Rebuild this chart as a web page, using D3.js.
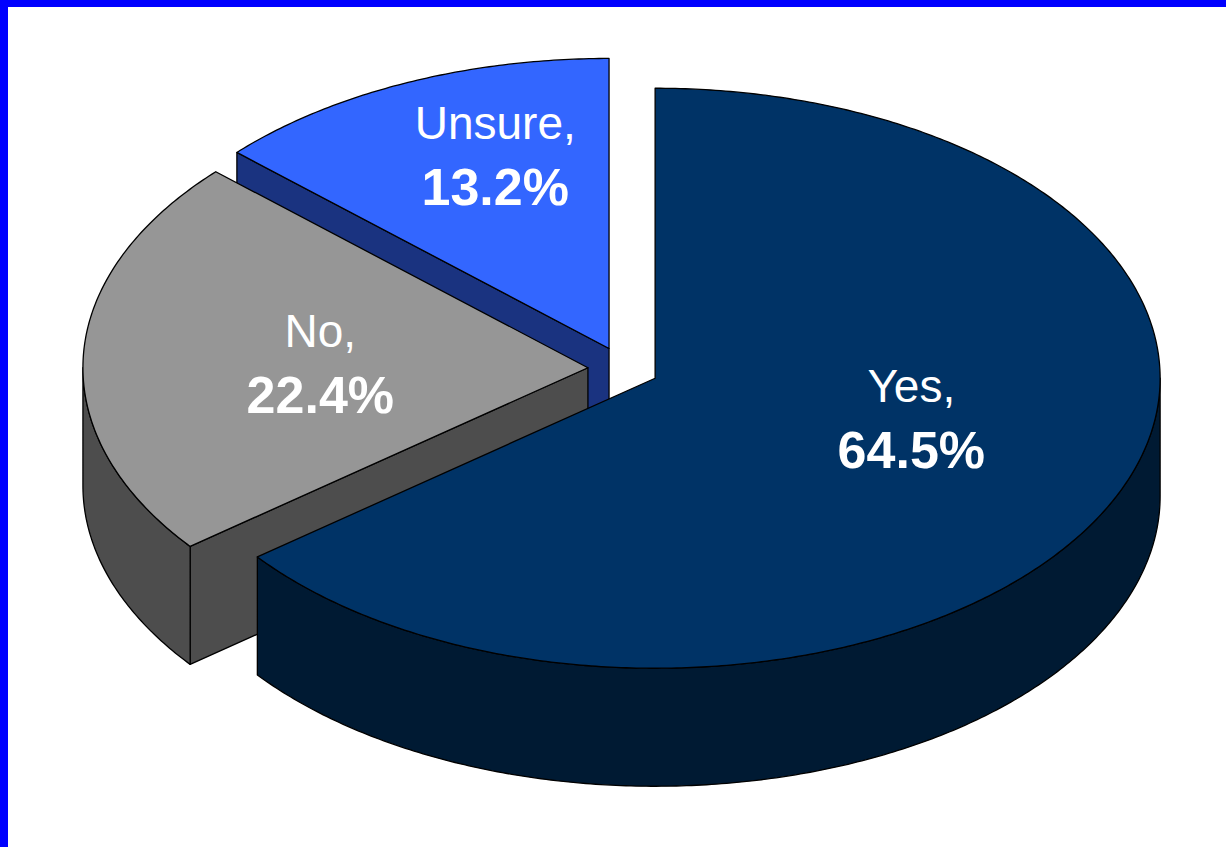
<!DOCTYPE html>
<html>
<head>
<meta charset="utf-8">
<script src="https://cdn.jsdelivr.net/npm/d3@7"></script>
<style>
  html, body { margin: 0; padding: 0; background: #ffffff; }
  svg { display: block; }
</style>
</head>
<body>
<svg id="chart" width="1226" height="847"></svg>
<script>
// Survey answers and their shares (percent)
const categories = ["Yes", "No", "Unsure"];
const shares = [64.5, 22.4, 13.2];

// Face colours per slice: top face and shaded side faces
const topColors = ["#003366", "#969696", "#3366ff"];
const sideColors = ["#001a33", "#4d4d4d", "#1a3380"];

const W = 1226, H = 847;
const svg = d3.select("#chart");

// Frame: white slide with a blue edge along the left and top
svg.append("rect").attr("x", 0).attr("y", 0).attr("width", W).attr("height", H).attr("fill", "#ffffff");
svg.append("rect").attr("x", 0).attr("y", 0).attr("width", W).attr("height", 7).attr("fill", "#0000ff");
svg.append("rect").attr("x", 0).attr("y", 0).attr("width", 8).attr("height", H).attr("fill", "#0000ff");

// 3D pie geometry (projected ellipse)
const cx = 623.3, cy = 368.6;   // centre of the un-exploded pie
const rx = 505, ry = 290;       // projected radii of the top face
const depth = 118;              // height of the extruded sides
const explodeX = 35.4, explodeY = 22; // slice offset along its mid-angle

const pie = d3.pie().sort(null).value(d => d);
const arcs = pie(shares).map((a, i) => {
  const mid = (a.startAngle + a.endAngle) / 2;
  return {
    ...a,
    i,
    mid,
    tx: cx + explodeX * Math.sin(mid),
    ty: cy - explodeY * Math.cos(mid)
  };
});

// point on the rim of a slice at angle t (clockwise from 12 o'clock), dropped by dz
function rim(s, t, dz) {
  return [s.tx + rx * Math.sin(t), s.ty - ry * Math.cos(t) + dz];
}
function rimPoints(s, t0, t1, dz) {
  const n = Math.max(2, Math.ceil(Math.abs(t1 - t0) / 0.01));
  return d3.range(n + 1).map(k => rim(s, t0 + (t1 - t0) * k / n, dz));
}
const line = d3.line().curve(d3.curveLinear);
const closed = pts => line(pts) + "Z";

const g = svg.append("g");
const strokeAttrs = sel => sel.attr("stroke", "#000000").attr("stroke-width", 1.3).attr("stroke-linejoin", "round");

// draw back-to-front: slices whose tip sits higher on screen go first
const order = arcs.slice().sort((a, b) => a.ty - b.ty);

order.forEach(s => {
  const sg = g.append("g");
  const tip = [s.tx, s.ty];
  const tipLow = [s.tx, s.ty + depth];

  // radial cut faces that turn toward the viewer
  if (Math.sin(s.startAngle) < -1e-6) {
    const p = rim(s, s.startAngle, 0);
    const pts = [tip, p, [p[0], p[1] + depth], tipLow];
    strokeAttrs(sg.append("path").attr("d", closed(pts)).attr("fill", sideColors[s.i]));
  }
  if (Math.sin(s.endAngle) > 1e-6) {
    const p = rim(s, s.endAngle, 0);
    const pts = [tip, p, [p[0], p[1] + depth], tipLow];
    strokeAttrs(sg.append("path").attr("d", closed(pts)).attr("fill", sideColors[s.i]));
  }

  // curved outer wall: only the front half of the rim is visible
  const a0 = Math.max(s.startAngle, Math.PI / 2);
  const a1 = Math.min(s.endAngle, 3 * Math.PI / 2);
  if (a1 > a0) {
    const pts = rimPoints(s, a0, a1, 0).concat(rimPoints(s, a1, a0, depth));
    strokeAttrs(sg.append("path").attr("d", closed(pts)).attr("fill", sideColors[s.i]));
  }

  // top face
  const topPts = [tip].concat(rimPoints(s, s.startAngle, s.endAngle, 0));
  strokeAttrs(sg.append("path").attr("d", closed(topPts)).attr("fill", topColors[s.i]));
});

// Data labels: category name on one line, share in bold below
const labelFrac = 0.56;
const labelNudge = [[2, -47], [15, -14], [0, -61]];
const lineGap = 66;
const fmt = d3.format(".1f");

const labels = svg.append("g")
  .attr("font-family", "'Liberation Sans', Arial, Helvetica, sans-serif")
  .attr("fill", "#ffffff")
  .attr("text-anchor", "middle");

arcs.forEach(s => {
  const x = s.tx + labelFrac * rx * Math.sin(s.mid) + labelNudge[s.i][0];
  const y = s.ty - labelFrac * ry * Math.cos(s.mid) + labelNudge[s.i][1];
  labels.append("text")
    .attr("x", x).attr("y", y)
    .attr("font-size", 46)
    .text(categories[s.i] + ",");
  labels.append("text")
    .attr("x", x).attr("y", y + lineGap)
    .attr("font-size", 52)
    .attr("font-weight", "bold")
    .text(fmt(shares[s.i]) + "%");
});
</script>
</body>
</html>
